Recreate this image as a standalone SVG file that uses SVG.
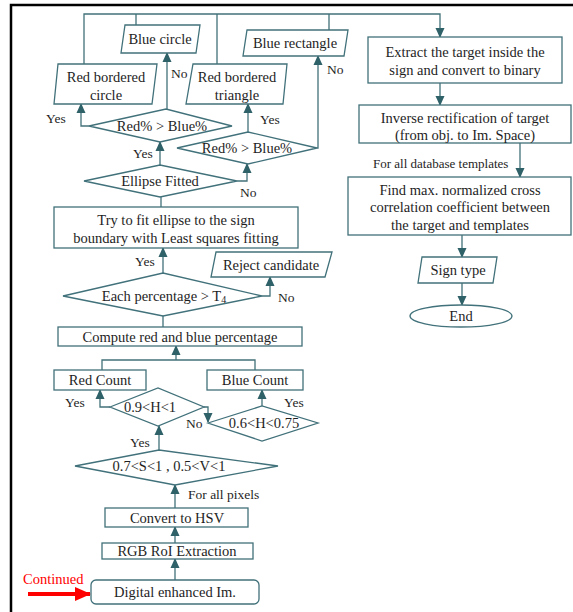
<svg xmlns="http://www.w3.org/2000/svg" width="573" height="612" viewBox="0 0 573 612" font-family="'Liberation Serif', 'Times New Roman', serif">
<defs>
<marker id="ah" markerUnits="userSpaceOnUse" markerWidth="10" markerHeight="10" viewBox="0 0 10 10" refX="9" refY="5" orient="auto">
<path d="M0,0.5 L10,5 L0,9.5 Z" fill="#2f6168"/>
</marker>
<marker id="red" markerUnits="userSpaceOnUse" markerWidth="16" markerHeight="16" viewBox="0 0 16 16" refX="15" refY="8" orient="auto">
<path d="M0,1 L16,8 L0,15 Z" fill="#ff0000"/>
</marker>
</defs>
<style>
.n{fill:#fff;stroke:#41717a;stroke-width:1.3}
.c{fill:none;stroke:#41717a;stroke-width:1.3}
text{font-family:'Liberation Serif','Times New Roman',serif;font-size:14.5px;fill:#1e1e1e}
.l{font-size:13.5px}
.m{text-anchor:middle}
</style>
<rect width="573" height="612" fill="#fff"/>
<path d="M11,612 V5 H573" fill="none" stroke="#000" stroke-width="2.5"/>

<g id="connectors">
<path class="c" d="M84,64 V14 H440 V37" marker-end="url(#ah)"/>
<path class="c" d="M136,14 V25 M217,14 V64 M329,14 V30"/>
<path class="c" d="M89,126 H81 V104" marker-end="url(#ah)"/>
<path class="c" d="M167,110 V53" marker-end="url(#ah)"/>
<path class="c" d="M160,165 V142" marker-end="url(#ah)"/>
<path class="c" d="M237,181 H247 V164" marker-end="url(#ah)"/>
<path class="c" d="M248,132 V104" marker-end="url(#ah)"/>
<path class="c" d="M317,148 H318 V56" marker-end="url(#ah)"/>
<path class="c" d="M161,197 V207"/>
<path class="c" d="M163,273 V248" marker-end="url(#ah)"/>
<path class="c" d="M262,296 H270 V277" marker-end="url(#ah)"/>
<path class="c" d="M163,316 V327"/>
<path class="c" d="M176,360 V346" marker-end="url(#ah)"/>
<path class="c" d="M102,370 V360 H255 V370"/>
<path class="c" d="M110,407 H100 V390" marker-end="url(#ah)"/>
<path class="c" d="M204,407 H208 V422" marker-end="url(#ah)"/>
<path class="c" d="M262,406 V390" marker-end="url(#ah)"/>
<path class="c" d="M159,450 V426" marker-end="url(#ah)"/>
<path class="c" d="M175,508 V485" marker-end="url(#ah)"/>
<path class="c" d="M175,543 V527" marker-end="url(#ah)"/>
<path class="c" d="M175,580 V559" marker-end="url(#ah)"/>
<path class="c" d="M440,83 V105" marker-end="url(#ah)"/>
<path class="c" d="M520,143 V177" marker-end="url(#ah)"/>
<path class="c" d="M462,235 V257" marker-end="url(#ah)"/>
<path class="c" d="M462,283 V305" marker-end="url(#ah)"/>
<path d="M28,594 H90" fill="none" stroke="#ff0000" stroke-width="4" marker-end="url(#red)"/>
</g>

<g id="labels">
<text class="l" x="46" y="123">Yes</text>
<text class="l" x="171" y="78">No</text>
<text class="l" x="133" y="158">Yes</text>
<text class="l" x="260" y="124">Yes</text>
<text class="l" x="240" y="197">No</text>
<text class="l" x="327" y="74">No</text>
<text class="l" x="135" y="266">Yes</text>
<text class="l" x="278" y="302">No</text>
<text class="l" x="65" y="407">Yes</text>
<text class="l" x="186" y="428">No</text>
<text class="l" x="284" y="407">Yes</text>
<text class="l" x="130" y="447">Yes</text>
<text class="l" x="188" y="499">For all pixels</text>
<text class="l" x="373" y="168" style="font-size:13px">For all database templates</text>
<text x="23" y="584" style="fill:#ff0000">Continued</text>
</g>

<g id="blue-circle"><polygon class="n" points="125,25 200,25 196,53 121,53"/><text class="m" x="160" y="44">Blue circle</text></g>
<g id="blue-rectangle"><polygon class="n" points="247,30 348,30 344,56 243,56"/><text class="m" x="295" y="48">Blue rectangle</text></g>
<g id="red-bordered-circle"><polygon class="n" points="58,64 157,64 152,104 54,104"/><text class="m" x="106" y="82">Red bordered</text><text class="m" x="106" y="100">circle</text></g>
<g id="red-bordered-triangle"><polygon class="n" points="193,64 287,64 283,104 186,104"/><text class="m" x="237" y="82">Red bordered</text><text class="m" x="237" y="100">triangle</text></g>
<g id="d-red-blue-1"><polygon class="n" points="89,126 166,109 232,126 160,142"/><text class="m" x="162" y="131">Red% &gt; Blue%</text></g>
<g id="d-red-blue-2"><polygon class="n" points="177,148 248,132 317,148 248,164"/><text class="m" x="247" y="153">Red% &gt; Blue%</text></g>
<g id="d-ellipse"><polygon class="n" points="84,181 160,165 237,181 160,197"/><text class="m" x="160" y="186">Ellipse Fitted</text></g>
<g id="try-fit"><rect class="n" x="54" y="207" width="244" height="41"/><text class="m" x="176" y="225">Try to fit ellipse  to the sign</text><text class="m" x="176" y="243">boundary with Least squares fitting</text></g>
<g id="d-each"><polygon class="n" points="63,296 163,273 262,296 163,316"/><text class="m" x="164" y="301">Each percentage &gt; T<tspan font-size="10" dy="2">4</tspan></text></g>
<g id="reject"><polygon class="n" points="216,252 332,252 325,277 211,277"/><text class="m" x="271" y="270">Reject candidate</text></g>
<g id="compute"><rect class="n" x="58" y="327" width="244" height="19"/><text class="m" x="180" y="342">Compute red and blue percentage</text></g>
<g id="red-count"><rect class="n" x="54" y="370" width="92" height="20"/><text class="m" x="100" y="385">Red Count</text></g>
<g id="blue-count"><rect class="n" x="207" y="370" width="96" height="20"/><text class="m" x="255" y="385">Blue Count</text></g>
<g id="d-h1"><polygon class="n" points="110,407 158,388 204,407 158,426"/><text class="m" x="150" y="412">0.9&lt;H&lt;1</text></g>
<g id="d-h2"><polygon class="n" points="208,423 262,406 318,423 262,441"/><text class="m" x="264" y="428">0.6&lt;H&lt;0.75</text></g>
<g id="d-sv"><polygon class="n" points="75,466 159,450 278,466 175,485"/><text class="m" x="169" y="471">0.7&lt;S&lt;1 , 0.5&lt;V&lt;1</text></g>
<g id="hsv"><rect class="n" x="105" y="508" width="143" height="19"/><text class="m" x="177" y="523">Convert to HSV</text></g>
<g id="rgb"><rect class="n" x="102" y="543" width="151" height="16"/><text class="m" x="177" y="556">RGB RoI Extraction</text></g>
<g id="digital"><rect class="n" x="91" y="580" width="168" height="24" rx="5"/><text class="m" x="175" y="597">Digital enhanced Im.</text></g>
<g id="extract"><rect class="n" x="368" y="37" width="194" height="46"/><text class="m" x="465" y="57">Extract the target inside  the</text><text class="m" x="465" y="75">sign  and convert to binary</text></g>
<g id="inverse"><rect class="n" x="359" y="105" width="212" height="38"/><text class="m" x="465" y="123">Inverse rectification of target</text><text class="m" x="465" y="140">(from obj. to Im. Space)</text></g>
<g id="find"><rect class="n" x="348" y="177" width="223" height="58"/><text class="m" x="460" y="195">Find max. normalized cross</text><text class="m" x="460" y="212">correlation coefficient between</text><text class="m" x="460" y="230">the target and templates</text></g>
<g id="sign-type"><polygon class="n" points="422,257 497,257 493,283 418,283"/><text class="m" x="458" y="275">Sign type</text></g>
<g id="end"><ellipse class="n" cx="461" cy="316" rx="51" ry="11"/><text class="m" x="461" y="321">End</text></g>
</svg>
